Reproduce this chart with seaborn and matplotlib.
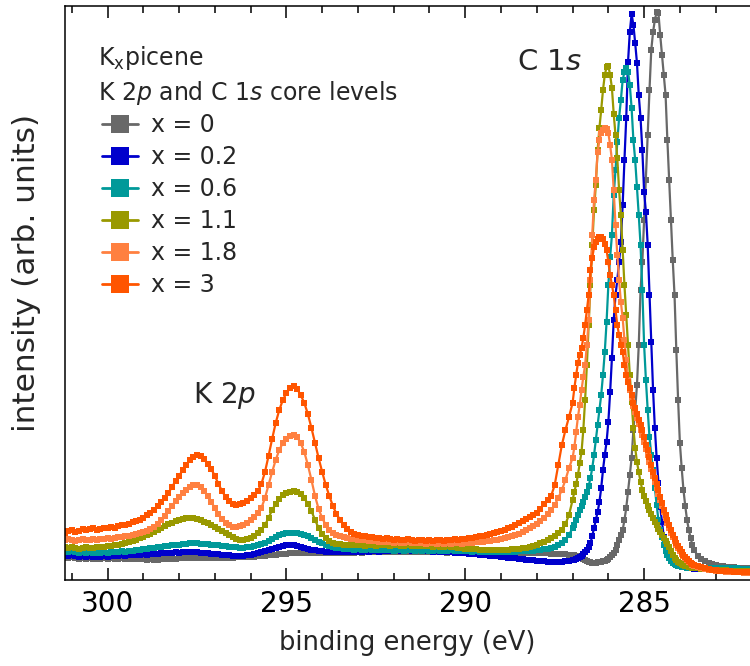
import numpy as np
import pandas as pd
import matplotlib
matplotlib.use("Agg")
import matplotlib.pyplot as plt
import seaborn as sns
from matplotlib.lines import Line2D
from matplotlib.ticker import MultipleLocator

# ---------------- data (binding energy in eV, intensity in arb. units) -------------
energy = np.concatenate([
    np.round(np.arange(301.2, 287.05, -0.1), 2),   # 142 points
    np.round(np.arange(287.0, 283.575, -0.05), 2),  # 69 points
    np.round(np.arange(283.5, 281.95, -0.1), 2),    # 16 points
])

labels = ["x = 0", "x = 0.2", "x = 0.6", "x = 1.1", "x = 1.8", "x = 3"]
colors = ["#686868", "#0000cc", "#009999", "#999900", "#ff8040", "#ff5500"]

# ---- x = 0 (gray)
gray_a = [23, 22, 23, 22, 21, 22, 21, 22, 21, 21,
          21, 22, 21, 22, 21, 21, 22, 21, 21, 21,
          21, 21, 21, 20, 21, 20, 20, 21, 21, 21,
          21, 21, 22, 22, 22, 22, 22, 22, 22, 22,
          22, 22, 22, 22, 22, 22, 22, 22, 23, 23,
          23, 23, 23, 23, 24, 24, 24, 25, 25, 25,
          26, 26, 26, 27, 27, 27, 27, 27, 27, 27,
          27, 27, 27, 27, 27, 27, 27, 27, 27, 27,
          27, 27, 28, 27, 28, 28, 28, 28, 28, 28,
          28, 28, 28, 28, 28, 28, 28, 28, 28, 28,
          28, 28, 28, 28, 28, 28, 28, 27, 28, 27,
          27, 27, 27, 27, 27, 27, 27, 27, 27, 27,
          27, 27, 27, 27, 27, 27, 27, 27, 27, 27,
          27, 27, 27, 27, 27, 27, 26, 26, 26, 26,
          26, 25]
gray_b = [25, 25, 24, 24, 23, 22, 21, 20, 19, 18,
          18, 17, 17, 17, 18, 18, 18, 19, 19, 20,
          21, 23, 25, 27, 30, 35, 40, 45, 50, 60,
          72, 88, 105, 122, 150, 170, 195, 235, 290, 318,
          360, 400, 445, 490, 530, 548, 560, 568, 567, 545,
          525, 505, 485, 440, 400, 360, 320, 285, 230, 180,
          137, 112, 90, 74, 60, 50, 42, 35, 30]
gray_c = [24, 21, 19, 17, 16, 15, 14, 14, 13, 13, 13, 12, 12, 12, 12, 12]

# ---- x = 0.2 (blue)
blue_a = [25, 24, 25, 24, 23, 24, 23, 24, 23, 23,
          23, 24, 23, 24, 24, 24, 25, 24, 25, 25,
          25, 25, 26, 25, 26, 26, 26, 27, 27, 27,
          27, 28, 27, 28, 28, 28, 28, 28, 27, 27,
          27, 26, 26, 26, 25, 25, 25, 24, 24, 24,
          24, 25, 25, 26, 27, 28, 29, 30, 31, 32,
          33, 34, 35, 35, 35, 34, 33, 32, 31, 30,
          30, 29, 29, 28, 28, 28, 28, 28, 28, 28,
          28, 28, 28, 28, 29, 28, 29, 29, 28, 29,
          29, 29, 29, 30, 29, 29, 30, 29, 29, 30,
          29, 29, 29, 28, 29, 28, 28, 28, 28, 27,
          27, 27, 27, 26, 26, 26, 25, 25, 25, 24,
          24, 24, 23, 23, 22, 22, 22, 21, 21, 20,
          20, 20, 19, 19, 19, 18, 18, 18, 18, 18,
          19, 19]
blue_b = [20, 20, 21, 22, 23, 24, 26, 28, 30, 33,
          37, 44, 52, 60, 68, 78, 92, 110, 125, 138,
          158, 188, 222, 260, 285, 300, 318, 338, 375, 420,
          462, 518, 548, 566, 555, 537, 517, 485, 462, 430,
          388, 368, 335, 285, 238, 190, 152, 122, 97, 73,
          58, 43, 33, 26, 22, 19, 17, 16, 15, 14,
          14, 13, 13, 13, 12, 12, 12, 12, 11]
blue_c = [11, 11, 11, 10, 10, 10, 10, 10, 10, 10, 10, 10, 9, 9, 9, 9]

# ---- x = 0.6 (teal)
teal_a = [29, 28, 29, 28, 27, 28, 27, 28, 27, 27,
          27, 28, 27, 28, 28, 28, 29, 28, 29, 29,
          30, 30, 31, 31, 32, 32, 33, 33, 34, 34,
          35, 35, 35, 36, 36, 37, 37, 37, 36, 36,
          36, 35, 35, 35, 34, 34, 33, 33, 33, 32,
          32, 33, 33, 34, 35, 36, 37, 39, 41, 43,
          45, 46, 47, 47, 47, 47, 46, 45, 44, 42,
          40, 38, 37, 35, 34, 33, 32, 32, 31, 31,
          31, 30, 31, 30, 30, 31, 30, 30, 30, 30,
          30, 30, 29, 30, 30, 29, 30, 30, 29, 30,
          29, 30, 29, 29, 30, 29, 29, 29, 30, 29,
          29, 29, 29, 29, 28, 29, 28, 28, 28, 28,
          28, 28, 28, 28, 28, 28, 28, 29, 29, 29,
          29, 29, 30, 30, 31, 31, 32, 33, 35, 37,
          40, 45]
teal_b = [52, 55, 60, 65, 70, 74, 78, 83, 88, 94,
          102, 112, 125, 140, 155, 170, 185, 205, 228, 258,
          295, 323, 345, 385, 410, 438, 462, 480, 500, 508,
          512, 508, 495, 472, 440, 420, 393, 365, 335, 290,
          235, 200, 170, 143, 125, 110, 92, 75, 60, 50,
          43, 35, 29, 25, 22, 19, 17, 16, 15, 14,
          14, 13, 13, 13, 12, 12, 12, 12, 12]
teal_c = [12, 12, 12, 12, 12, 12, 12, 12, 12, 12, 12, 12, 11, 11, 11, 11]

# ---- x = 1.1 (olive)
olive_a = [33, 32, 33, 32, 31, 32, 33, 32, 32, 33,
           33, 33, 34, 34, 35, 35, 36, 37, 38, 39,
           40, 42, 43, 45, 46, 48, 50, 52, 54, 56,
           57, 59, 60, 61, 62, 62, 62, 61, 60, 58,
           57, 55, 53, 51, 49, 47, 45, 43, 41, 40,
           40, 41, 42, 44, 47, 50, 55, 62, 70, 76,
           81, 85, 87, 88, 89, 88, 86, 82, 76, 69,
           60, 52, 46, 42, 39, 37, 36, 36, 35, 35,
           35, 35, 35, 35, 34, 35, 35, 34, 35, 35,
           35, 34, 35, 35, 34, 34, 35, 34, 34, 34,
           34, 34, 34, 33, 34, 33, 33, 34, 33, 33,
           32, 32, 31, 31, 31, 31, 30, 30, 30, 30,
           30, 30, 30, 30, 30, 31, 31, 31, 32, 32,
           33, 34, 35, 37, 38, 40, 42, 44, 47, 50,
           56, 65]
olive_b = [80, 88, 96, 105, 117, 128, 150, 180, 215, 255,
           295, 335, 370, 395, 430, 452, 470, 490, 505, 513,
           514, 505, 492, 466, 445, 422, 390, 365, 330, 295,
           265, 235, 205, 178, 152, 132, 118, 108, 98, 90,
           84, 79, 74, 70, 66, 62, 58, 55, 51, 48,
           45, 42, 39, 36, 33, 29, 25, 22, 20, 18,
           17, 16, 15, 14, 14, 13, 13, 12, 12]
olive_c = [12, 11, 11, 11, 10, 10, 10, 10, 10, 9, 9, 9, 9, 9, 9, 9]

# ---- x = 1.8 (light orange)
ltor_a = [40, 41, 40, 39, 40, 41, 40, 40, 41, 40,
          41, 41, 42, 41, 42, 43, 43, 44, 44, 45,
          46, 47, 48, 49, 51, 53, 56, 60, 64, 69,
          74, 79, 83, 87, 90, 93, 95, 95, 93, 89,
          84, 78, 72, 66, 61, 57, 55, 53, 53, 54,
          55, 57, 60, 63, 67, 72, 82, 95, 108, 120,
          130, 137, 141, 144, 145, 143, 137, 128, 115, 100,
          84, 71, 62, 55, 50, 47, 45, 44, 43, 42,
          41, 41, 40, 40, 40, 39, 39, 39, 38, 38,
          38, 38, 37, 38, 37, 37, 38, 37, 37, 37,
          37, 36, 37, 37, 36, 37, 36, 37, 36, 37,
          37, 36, 37, 37, 37, 38, 38, 38, 39, 39,
          40, 40, 41, 42, 43, 44, 45, 46, 48, 50,
          52, 54, 56, 59, 62, 66, 70, 75, 82, 90,
          100, 112]
ltor_b = [122, 133, 148, 163, 175, 190, 203, 215, 235, 260,
          300, 345, 380, 400, 428, 440, 447, 450, 452, 451,
          447, 435, 420, 390, 355, 325, 300, 278, 262, 240,
          220, 200, 190, 182, 174, 168, 162, 156, 150, 145,
          138, 131, 125, 118, 111, 104, 98, 92, 86, 80,
          74, 68, 62, 57, 52, 47, 43, 39, 35, 32,
          29, 26, 24, 22, 20, 18, 17, 15, 14]
ltor_c = [13, 12, 11, 10, 10, 9, 9, 9, 8, 8, 8, 8, 8, 7, 7, 7]

# ---- x = 3 (orange-red)
red_a = [47, 49, 50, 48, 49, 51, 50, 51, 52, 50,
         51, 52, 52, 53, 52, 54, 55, 55, 56, 58,
         59, 60, 62, 65, 67, 70, 74, 78, 82, 87,
         93, 99, 104, 110, 115, 120, 123, 125, 124, 121,
         116, 111, 104, 96, 89, 83, 79, 76, 75, 76,
         77, 79, 82, 85, 89, 96, 108, 124, 141, 157,
         170, 180, 187, 192, 194, 191, 185, 177, 166, 152,
         137, 122, 108, 95, 84, 74, 66, 60, 55, 51,
         48, 46, 45, 44, 44, 43, 43, 42, 42, 41,
         42, 41, 40, 41, 40, 40, 41, 40, 39, 40,
         40, 39, 40, 39, 40, 40, 39, 40, 40, 41,
         40, 41, 41, 42, 42, 43, 44, 44, 45, 46,
         47, 48, 49, 50, 52, 53, 55, 57, 59, 61,
         63, 65, 67, 71, 76, 80, 84, 95, 115, 135,
         150, 163]
red_b = [177, 192, 205, 217, 225, 232, 242, 255, 270, 285,
         310, 322, 333, 338, 341, 343, 343, 341, 336, 330,
         318, 305, 295, 285, 270, 255, 245, 235, 228, 215,
         205, 198, 192, 185, 177, 172, 166, 160, 155, 150,
         143, 135, 130, 123, 115, 108, 102, 96, 90, 83,
         77, 70, 65, 60, 55, 50, 45, 41, 37, 34,
         31, 28, 25, 23, 21, 19, 17, 16, 15]
red_c = [14, 13, 12, 11, 10, 10, 9, 9, 9, 9, 8, 8, 8, 8, 8, 8]

series = {
    "x = 0": gray_a + gray_b + gray_c,
    "x = 0.2": blue_a + blue_b + blue_c,
    "x = 0.6": teal_a + teal_b + teal_c,
    "x = 1.1": olive_a + olive_b + olive_c,
    "x = 1.8": ltor_a + ltor_b + ltor_c,
    "x = 3": red_a + red_b + red_c,
}

frames = []
for name in labels:
    vals = series[name]
    assert len(vals) == len(energy), (name, len(vals), len(energy))
    frames.append(pd.DataFrame({"energy": energy, "intensity": vals, "series": name}))
df = pd.concat(frames, ignore_index=True)

# ---------------- figure -------------------------------------------------------------
sns.set_style("ticks")
plt.rcParams["font.family"] = ["DejaVu Sans"]
plt.rcParams["mathtext.fontset"] = "dejavusans"

W, H = 750, 666
fig = plt.figure(figsize=(W / 100, H / 100), dpi=100)
ax = fig.add_axes([65 / W, (H - 580) / H, 685 / W, 574 / H])

sns.lineplot(data=df, x="energy", y="intensity", hue="series", hue_order=labels,
             palette=colors, marker="s", markersize=4.6, markeredgewidth=0,
             linewidth=1.6, estimator=None, sort=False, legend=False, ax=ax)

ax.set_xlim(301.19, 282.04)
ax.set_ylim(0, 574)
ax.set_yticks([])
ax.xaxis.set_major_locator(MultipleLocator(5))
ax.xaxis.set_minor_locator(MultipleLocator(1))
ax.tick_params(axis="x", which="both", direction="in", top=True, bottom=True,
               width=1.1, colors="black", labelsize=20, pad=7)
ax.tick_params(axis="x", which="major", length=8.6)
ax.tick_params(axis="x", which="minor", length=4.7)
for side in ["left", "top", "bottom"]:
    ax.spines[side].set_linewidth(1.1)
    ax.spines[side].set_color("black")
ax.spines["right"].set_visible(False)

ax.set_xlabel("binding energy (eV)", fontsize=18.5)
ax.xaxis.set_label_coords(0.5, -0.087)
ax.set_ylabel("intensity (arb. units)", fontsize=22.5)
ax.yaxis.set_label_coords(-0.035, 0.535)

# header lines of the legend
fig.text(98 / W, (H - 65) / H, r"K$_\mathregular{x}$picene", fontsize=17,
         ha="left", va="baseline")
fig.text(98 / W, (H - 100) / H, r"K 2$p$ and C 1$s$ core levels", fontsize=17,
         ha="left", va="baseline")

handles = [Line2D([], [], color=c, lw=2, marker="s", markersize=12.5,
                  markeredgewidth=0) for c in colors]
fig.legend(handles, labels, loc="upper left",
           bbox_to_anchor=(102 / W, (H - 113) / H), bbox_transform=fig.transFigure,
           frameon=False, borderpad=0, borderaxespad=0, handlelength=1.52,
           handletextpad=0.55, labelspacing=0.34, fontsize=17)

# peak annotations
fig.text(517 / W, (H - 70) / H, r"C 1$s$", fontsize=21, ha="left", va="baseline")
fig.text(193 / W, (H - 403) / H, r"K 2$p$", fontsize=20, ha="left", va="baseline")

fig.savefig("out.png", dpi=100)
